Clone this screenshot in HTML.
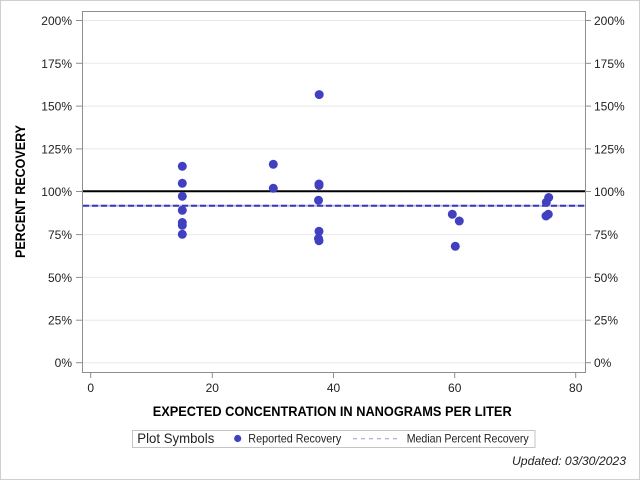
<!DOCTYPE html>
<html><head><meta charset="utf-8"><style>
html,body{margin:0;padding:0;background:#fff;}
svg{display:block;}
text{font-family:"Liberation Sans",Arial,sans-serif;fill:#222;}
</style></head><body>
<svg width="640" height="480" viewBox="0 0 640 480" xmlns="http://www.w3.org/2000/svg">
<rect x="0.5" y="0.5" width="639" height="479" fill="#fff" stroke="#cfcfcf" stroke-width="1"/>
<!-- gridlines -->
<g stroke="#e8e8e8" stroke-width="1">
<line x1="83" x2="585" y1="20.5" y2="20.5"/>
<line x1="83" x2="585" y1="63.3" y2="63.3"/>
<line x1="83" x2="585" y1="106.1" y2="106.1"/>
<line x1="83" x2="585" y1="148.9" y2="148.9"/>
<line x1="83" x2="585" y1="234.6" y2="234.6"/>
<line x1="83" x2="585" y1="277.4" y2="277.4"/>
<line x1="83" x2="585" y1="320.2" y2="320.2"/>
<line x1="83" x2="585" y1="362.7" y2="362.7"/>
</g>
<!-- frame -->
<rect x="82.5" y="11.5" width="503" height="361" fill="none" stroke="#8e8e8e" stroke-width="1"/>
<!-- y ticks left/right -->
<g stroke="#8e8e8e" stroke-width="1">
<line x1="76" x2="82" y1="20.5" y2="20.5"/><line x1="585" x2="591" y1="20.5" y2="20.5"/>
<line x1="76" x2="82" y1="63.3" y2="63.3"/><line x1="585" x2="591" y1="63.3" y2="63.3"/>
<line x1="76" x2="82" y1="106.1" y2="106.1"/><line x1="585" x2="591" y1="106.1" y2="106.1"/>
<line x1="76" x2="82" y1="148.9" y2="148.9"/><line x1="585" x2="591" y1="148.9" y2="148.9"/>
<line x1="76" x2="82" y1="191.5" y2="191.5"/><line x1="585" x2="591" y1="191.5" y2="191.5"/>
<line x1="76" x2="82" y1="234.6" y2="234.6"/><line x1="585" x2="591" y1="234.6" y2="234.6"/>
<line x1="76" x2="82" y1="277.4" y2="277.4"/><line x1="585" x2="591" y1="277.4" y2="277.4"/>
<line x1="76" x2="82" y1="320.2" y2="320.2"/><line x1="585" x2="591" y1="320.2" y2="320.2"/>
<line x1="76" x2="82" y1="362.7" y2="362.7"/><line x1="585" x2="591" y1="362.7" y2="362.7"/>
<!-- x ticks -->
<line x1="90.7" x2="90.7" y1="372" y2="378"/>
<line x1="212.3" x2="212.3" y1="372" y2="378"/>
<line x1="333.5" x2="333.5" y1="372" y2="378"/>
<line x1="454.7" x2="454.7" y1="372" y2="378"/>
<line x1="575.7" x2="575.7" y1="372" y2="378"/>
</g>
<!-- y labels left -->
<g font-size="12" text-anchor="end">
<text x="72" y="25">200%</text>
<text x="72" y="67.8">175%</text>
<text x="72" y="110.6">150%</text>
<text x="72" y="153.4">125%</text>
<text x="72" y="196">100%</text>
<text x="72" y="239.1">75%</text>
<text x="72" y="281.9">50%</text>
<text x="72" y="324.7">25%</text>
<text x="72" y="367.2">0%</text>
</g>
<g font-size="12" text-anchor="start">
<text x="594" y="25">200%</text>
<text x="594" y="67.8">175%</text>
<text x="594" y="110.6">150%</text>
<text x="594" y="153.4">125%</text>
<text x="594" y="196">100%</text>
<text x="594" y="239.1">75%</text>
<text x="594" y="281.9">50%</text>
<text x="594" y="324.7">25%</text>
<text x="594" y="367.2">0%</text>
</g>
<!-- x labels -->
<g font-size="12" text-anchor="middle">
<text x="90.7" y="392">0</text>
<text x="212.3" y="392">20</text>
<text x="333.5" y="392">40</text>
<text x="454.7" y="392">60</text>
<text x="575.7" y="392">80</text>
</g>
<!-- axis titles -->
<text x="152.7" y="416" font-size="13.5" font-weight="bold" textLength="359" lengthAdjust="spacingAndGlyphs" style="fill:#000">EXPECTED CONCENTRATION IN NANOGRAMS PER LITER</text>
<text transform="translate(25,258) rotate(-90)" x="0" y="0" font-size="13.5" font-weight="bold" textLength="133" lengthAdjust="spacingAndGlyphs" style="fill:#000">PERCENT RECOVERY</text>
<!-- reference 100% line -->
<line x1="83" x2="585" y1="191.3" y2="191.3" stroke="#000" stroke-width="2"/>
<!-- median line -->
<line x1="83" x2="585" y1="205.7" y2="205.7" stroke="#b8b8e6" stroke-width="2"/>
<line x1="83" x2="585" y1="205.7" y2="205.7" stroke="#3a3ab8" stroke-width="2" stroke-dasharray="6 3"/>
<!-- points -->
<g fill="#4040c0">
<circle cx="182.3" cy="166.3" r="4.5"/>
<circle cx="182.3" cy="183.3" r="4.5"/>
<circle cx="182.3" cy="196.3" r="4.5"/>
<circle cx="182.3" cy="210.3" r="4.5"/>
<circle cx="182.3" cy="222.5" r="4.5"/>
<circle cx="182.3" cy="225.3" r="4.5"/>
<circle cx="182.3" cy="234.3" r="4.5"/>
<circle cx="273.3" cy="164.3" r="4.5"/>
<circle cx="273.3" cy="188.3" r="4.5"/>
<circle cx="319.2" cy="94.6" r="4.5"/>
<circle cx="319" cy="184" r="4.5"/>
<circle cx="319" cy="185.5" r="4.5"/>
<circle cx="318.5" cy="200.3" r="4.5"/>
<circle cx="319" cy="231.3" r="4.5"/>
<circle cx="318.5" cy="238.5" r="4.5"/>
<circle cx="319" cy="240.7" r="4.5"/>
<circle cx="452.3" cy="214.3" r="4.5"/>
<circle cx="459.3" cy="221" r="4.5"/>
<circle cx="455.3" cy="246.3" r="4.5"/>
<circle cx="548.7" cy="197.5" r="4.5"/>
<circle cx="546.3" cy="202.3" r="4.5"/>
<circle cx="548.3" cy="214.3" r="4.5"/>
<circle cx="546" cy="216" r="4.5"/>
</g>
<!-- legend -->
<rect x="132.5" y="430.5" width="402.5" height="17" fill="#fff" stroke="#c4c4c4" stroke-width="1"/>
<text x="137.3" y="443" font-size="14" textLength="77" lengthAdjust="spacingAndGlyphs">Plot Symbols</text>
<circle cx="237.7" cy="438.5" r="3.6" fill="#4040c0"/>
<text x="248.3" y="442.5" font-size="12" textLength="93" lengthAdjust="spacingAndGlyphs">Reported Recovery</text>
<line x1="353" x2="397" y1="438.7" y2="438.7" stroke="#9a9ae6" stroke-width="1" stroke-dasharray="4 4"/>
<text x="406.7" y="442.5" font-size="12" textLength="122" lengthAdjust="spacingAndGlyphs">Median Percent Recovery</text>
<!-- updated -->
<text x="626" y="465" font-size="12" font-style="italic" text-anchor="end" textLength="114" lengthAdjust="spacingAndGlyphs">Updated: 03/30/2023</text>
</svg>
</body></html>
